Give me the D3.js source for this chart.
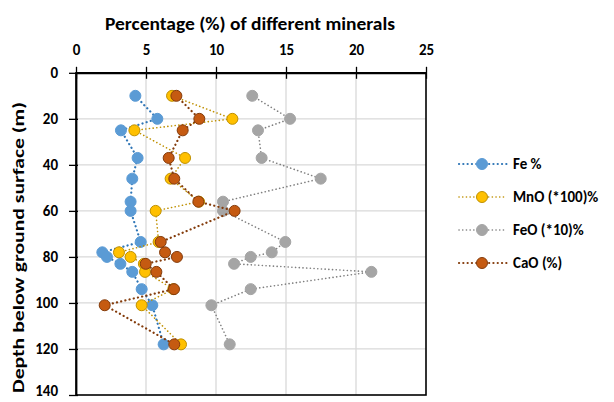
<!DOCTYPE html>
<html>
<head>
<meta charset="utf-8">
<script src="https://cdn.jsdelivr.net/npm/d3@7"></script>
<style>
  html, body { margin: 0; padding: 0; background: #fff; }
  svg { display: block; }
  text { font-family: Calibri, Carlito, Lato, "Open Sans", sans-serif; font-weight: bold; fill: #000; }
</style>
</head>
<body>
<svg id="chart" width="614" height="402"></svg>
<script>
// Depth of each sample (m)
const depths = [10, 20, 25, 37, 46, 56, 60, 73.5, 78, 80, 83, 86.5, 94, 101, 118];

// Mineral percentages per sample, same order as depths
const fe   = [4.24, 5.81, 3.21, 4.40, 4.02, 3.90, 3.90, 4.62, 1.88, 2.21, 3.17, 4.02, 4.69, 5.45, 6.26];
const mno  = [6.86, 11.17, 4.17, 7.79, 6.76, 8.79, 5.69, 5.90, 3.07, 3.90, 4.85, 4.93, 6.95, 4.69, 7.50];
const feo  = [12.59, 15.29, 13.00, 13.26, 17.48, 10.50, 10.50, 14.95, 13.98, 12.48, 11.29, 21.10, 12.48, 9.67, 10.98];
const cao  = [7.17, 8.81, 7.62, 6.62, 7.02, 8.74, 11.33, 6.05, 6.36, 7.21, 4.98, 5.74, 7.00, 2.05, 7.02];

const seriesNames = ["Fe %", "MnO (*100)%", "FeO (*10)%", "CaO (%)"];
const xTicks = [0, 5, 10, 15, 20, 25];
const yTicks = [0, 20, 40, 60, 80, 100, 120, 140];

const styles = [
  { values: fe,  line: "#2E75B6", fill: "#5B9BD5", stroke: "#5B9BD5", lw: 2.2, dash: "0.1 4.2" },
  { values: mno, line: "#BF9000", fill: "#FFC000", stroke: "#BF9000", lw: 1.6, dash: "0.1 3.6" },
  { values: feo, line: "#7F7F7F", fill: "#A5A5A5", stroke: "#A5A5A5", lw: 1.6, dash: "0.1 3.6" },
  { values: cao, line: "#843C0C", fill: "#C55A11", stroke: "#843C0C", lw: 2.2, dash: "0.1 4.2" }
];

const svg = d3.select("#chart");
const plotL = 76, plotR = 426, plotT = 72.8, plotB = 395;

const x = d3.scaleLinear().domain([0, 25]).range([plotL, plotR]);
const y = d3.scaleLinear().domain([0, 140]).range([plotT, plotB]);

// gridlines
svg.append("g").selectAll("line").data(xTicks.slice(1, -1)).join("line")
  .attr("x1", d => x(d)).attr("x2", d => x(d)).attr("y1", plotT).attr("y2", plotB)
  .attr("stroke", "#D9D9D9").attr("stroke-width", 1.3);
svg.append("g").selectAll("line").data(yTicks.slice(1, -1)).join("line")
  .attr("x1", plotL).attr("x2", plotR).attr("y1", d => y(d)).attr("y2", d => y(d))
  .attr("stroke", "#D9D9D9").attr("stroke-width", 1.3);

// plot frame
svg.append("rect").attr("x", plotL).attr("y", plotT).attr("width", plotR - plotL).attr("height", plotB - plotT)
  .attr("fill", "none").attr("stroke", "#000").attr("stroke-width", 1.6);

// top axis
const xAxis = svg.append("g").attr("transform", `translate(0,${plotT})`)
  .call(d3.axisTop(x).tickValues(xTicks).tickSize(6).tickPadding(12).tickSizeOuter(0));
xAxis.select(".domain").attr("stroke-width", 1.8);
xAxis.selectAll(".tick line").attr("stroke-width", 1.3).attr("y2", -6).attr("y1", 6);
xAxis.selectAll("text").style("font-size", "15px");

// left axis
const yAxis = svg.append("g").attr("transform", `translate(${plotL},0)`)
  .call(d3.axisLeft(y).tickValues(yTicks).tickSize(7).tickPadding(11).tickSizeOuter(0));
yAxis.select(".domain").attr("stroke-width", 1.8);
yAxis.selectAll(".tick line").attr("stroke-width", 1.3).attr("x1", 2);
yAxis.selectAll("text").style("font-size", "15px")
  .attr("dy", d => d === 140 ? "0.05em" : "0.3em");

// titles
svg.append("text").attr("x", (plotL + plotR) / 2 - 1).attr("y", 30).attr("text-anchor", "middle")
  .style("font-size", "18px").attr("textLength", 290).attr("lengthAdjust", "spacingAndGlyphs")
  .text("Percentage (%) of different minerals");
svg.append("text").attr("transform", `translate(23.5,247.5) rotate(-90)`).attr("text-anchor", "middle")
  .style("font-size", "16.5px").attr("textLength", 291).attr("lengthAdjust", "spacingAndGlyphs")
  .text("Depth below ground surface (m)");

// series
const line = d3.line().x(d => x(d[0])).y(d => y(d[1]));
styles.forEach(s => {
  const pts = s.values.map((v, i) => [v, depths[i]]);
  const g = svg.append("g");
  g.append("path").datum(pts).attr("d", line).attr("fill", "none")
    .attr("stroke", s.line).attr("stroke-width", s.lw).attr("stroke-dasharray", s.dash)
    .attr("stroke-linecap", "round");
  g.selectAll("circle").data(pts).join("circle")
    .attr("cx", d => x(d[0])).attr("cy", d => y(d[1])).attr("r", 5.5)
    .attr("fill", s.fill).attr("stroke", s.stroke).attr("stroke-width", 1);
});

// legend
const legend = svg.append("g");
styles.forEach((s, i) => {
  const ly = 164 + i * 33;
  legend.append("line").attr("x1", 459).attr("x2", 507).attr("y1", ly).attr("y2", ly)
    .attr("stroke", s.line).attr("stroke-width", s.lw).attr("stroke-dasharray", s.dash)
    .attr("stroke-linecap", "round");
  legend.append("circle").attr("cx", 482).attr("cy", ly).attr("r", 5.5)
    .attr("fill", s.fill).attr("stroke", s.stroke).attr("stroke-width", 1);
  legend.append("text").attr("x", 513).attr("y", ly).attr("dy", "0.36em")
    .style("font-size", "15px").text(seriesNames[i]);
});
</script>
</body>
</html>
